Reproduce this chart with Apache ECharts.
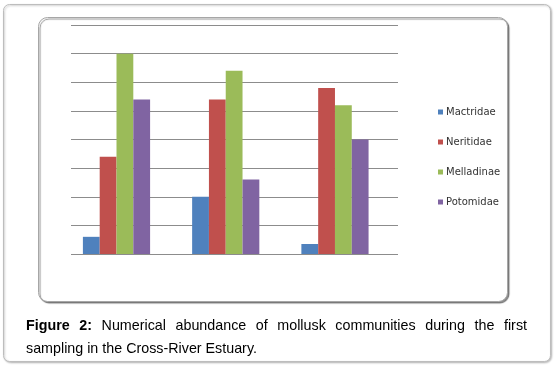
<!DOCTYPE html>
<html lang="en">
<head>
    <meta charset="UTF-8">
    <title>Figure 2</title>
    <script src="https://cdn.jsdelivr.net/npm/echarts@6/dist/echarts.min.js"></script>
    <style>
        html,body{margin:0;padding:0;background:#fff;}
        #chart{width:555px;height:366px;}
    </style>
</head>
<body>
    <div id="chart"></div>
    <script>
        // data (3 sampling stations, no axis labels shown)
        var stations = [0, 1, 2];
        var families = ["Mactridae", "Neritidae", "Melladinae", "Potomidae"];
        var mactridae  = [0.6, 2.0, 0.35];
        var neritidae  = [3.4, 5.4, 5.8];
        var melladinae = [7.0, 6.4, 5.2];
        var potomidae  = [5.4, 2.6, 4.0];
        var colors = ["#4F81BD", "#C0504D", "#9BBB59", "#8064A2"];

        var captionLine1 = [["Figure", true], ["2:", true], ["Numerical"], ["abundance"], ["of"], ["mollusk"],
                            ["communities"], ["during"], ["the"], ["first"]];
        var captionLine2 = "sampling in the Cross-River Estuary.";

        var myChart = echarts.init(document.getElementById("chart"));

        function pairs(vals){
            return stations.map(function(s, i){ return [s, vals[i]]; });
        }
        var allVals = [mactridae, neritidae, melladinae, potomidae];
        var series = families.map(function(name, k){
            return {
                name: name,
                type: "bar",
                data: pairs(allVals[k]),
                barWidth: 16.8,
                barGap: "0%",
                itemStyle: {color: colors[k]},
                emphasis: {disabled: true}
            };
        });

        // justify the first caption line by hand (echarts text has no justify)
        var ctx = document.createElement("canvas").getContext("2d");
        var fs = 14.3, fam = "'Liberation Sans', Arial, sans-serif";
        var x0 = 26, x1 = 527;
        var widths = captionLine1.map(function(w){
            ctx.font = (w[1] ? "bold " : "") + fs + "px " + fam;
            return ctx.measureText(w[0]).width;
        });
        var total = widths.reduce(function(a, b){ return a + b; }, 0);
        var gap = (x1 - x0 - total) / (captionLine1.length - 1);
        var texts = [];
        var cx = x0;
        captionLine1.forEach(function(w, i){
            texts.push({
                type: "text", x: cx, y: 326, z: 10,
                style: {text: w[0], fill: "#000", fontSize: fs, fontFamily: fam,
                        fontWeight: w[1] ? "bold" : "normal", verticalAlign: "middle"}
            });
            cx += widths[i] + gap;
        });
        texts.push({
            type: "text", x: x0, y: 349, z: 10,
            style: {text: captionLine2, fill: "#000", fontSize: fs, fontFamily: fam, verticalAlign: "middle"}
        });

        var option = {
            animation: false,
            color: colors,
            graphic: [
                {   // outer frame
                    type: "rect", z: -20,
                    shape: {x: 3.5, y: 4.5, width: 547, height: 357, r: 6},
                    style: {fill: "#fff", stroke: "#bdbdbd", lineWidth: 1,
                            shadowColor: "rgba(0,0,0,0.25)", shadowBlur: 2, shadowOffsetX: 1, shadowOffsetY: 1}
                },
                {   // chart area frame
                    type: "rect", z: -10,
                    shape: {x: 38.5, y: 17.5, width: 469, height: 284, r: 9},
                    style: {fill: "#fff", stroke: "#a6a6a6", lineWidth: 1,
                            shadowColor: "rgba(0,0,0,0.45)", shadowBlur: 1, shadowOffsetX: 1.5, shadowOffsetY: 1.5}
                }
            ].concat(texts),
            grid: {left: 71, right: 157, top: 25, bottom: 112},
            xAxis: {
                type: "value",
                min: -0.4165,
                max: 2.577,
                show: false
            },
            yAxis: {
                type: "value",
                min: 0,
                max: 8,
                interval: 1,
                axisLine: {show: false},
                axisTick: {show: false},
                axisLabel: {show: false},
                splitLine: {lineStyle: {color: "#8c8c8c", width: 1}}
            },
            legend: {
                orient: "vertical",
                left: 433,
                top: 101,
                icon: "rect",
                itemWidth: 5,
                itemHeight: 5,
                itemGap: 18,
                selectedMode: false,
                textStyle: {fontSize: 10, lineHeight: 12, color: "#333", fontFamily: "'DejaVu Sans', sans-serif", padding: [0, 0, 0, -2]},
                data: families
            },
            series: series
        };
        myChart.setOption(option);
    </script>
</body>
</html>
